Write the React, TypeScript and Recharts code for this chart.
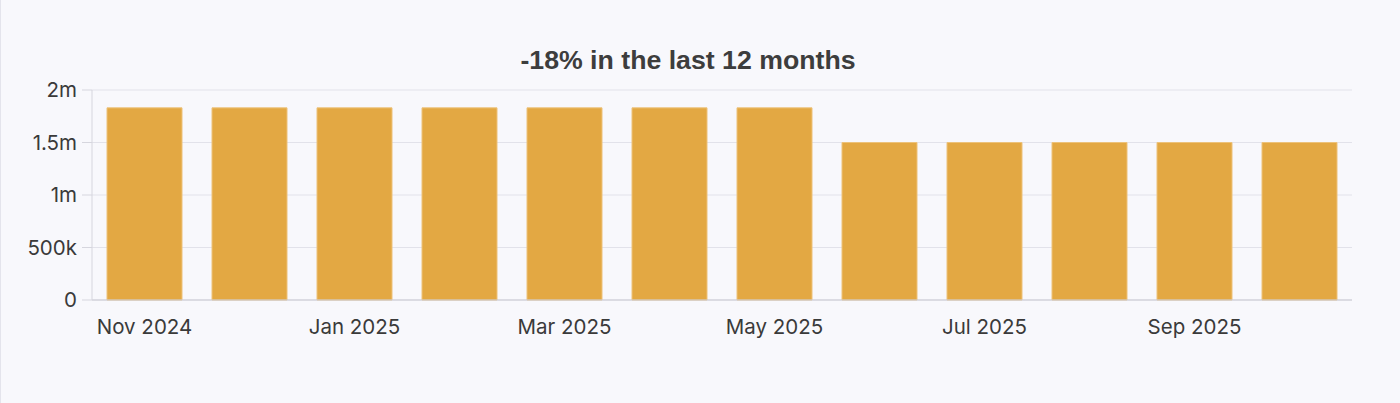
import React from "react";
import { BarChart, Bar, XAxis, YAxis, CartesianGrid } from "recharts";

const months = [
  "Nov 2024", "Dec 2024", "Jan 2025", "Feb 2025", "Mar 2025", "Apr 2025",
  "May 2025", "Jun 2025", "Jul 2025", "Aug 2025", "Sep 2025", "Oct 2025",
];
const values = [
  1830000, 1830000, 1830000, 1830000, 1830000, 1830000,
  1830000, 1500000, 1500000, 1500000, 1500000, 1500000,
];
const yTicks = [0, 500000, 1000000, 1500000, 2000000];
const yTickLabels = ["0", "500k", "1m", "1.5m", "2m"];
const title = "-18% in the last 12 months";

const data = months.map((m, i) => ({ month: m, value: values[i] }));

const tickFont = { fontFamily: "Inter", fontSize: 20.5, fill: "#3a3a3a" };

export default function App() {
  return (
    <div
      style={{
        position: "fixed",
        left: 0,
        top: 0,
        width: 1400,
        height: 403,
        background: "#F8F8FC",
        borderLeft: "1px solid #E4E4EC",
        boxSizing: "border-box",
        overflow: "hidden",
      }}
    >
      <div
        style={{
          position: "absolute",
          left: 387,
          width: 600,
          top: 45,
          textAlign: "center",
          fontFamily: "Liberation Sans",
          fontWeight: 700,
          fontSize: 26.7,
          lineHeight: "30px",
          color: "#3d3d3d",
        }}
      >
        {title}
      </div>
      <div style={{ position: "absolute", left: -1, top: 0 }}>
        <BarChart
          width={1400}
          height={403}
          data={data}
          margin={{ top: 90, right: 48, bottom: 73, left: 0 }}
          barCategoryGap="14.3%"
        >
          <CartesianGrid vertical={false} stroke="#E2E2EA" />
          <XAxis
            dataKey="month"
            interval={1}
            tickLine={false}
            tickSize={0}
            tickMargin={19}
            height={30}
            axisLine={{ stroke: "#C9C9D2" }}
            tick={tickFont}
          />
          <YAxis
            width={92}
            domain={[0, 2000000]}
            ticks={yTicks}
            tickFormatter={(v: number) => yTickLabels[yTicks.indexOf(v)]}
            tickSize={10}
            tickMargin={5}
            tickLine={{ stroke: "#D6D6DE" }}
            axisLine={{ stroke: "#D6D6DE" }}
            tick={tickFont}
          />
          <Bar
            dataKey="value"
            fill="#E3A843"
            stroke="#EDC27A"
            strokeWidth={1}
            isAnimationActive={false}
          />
        </BarChart>
      </div>
    </div>
  );
}
